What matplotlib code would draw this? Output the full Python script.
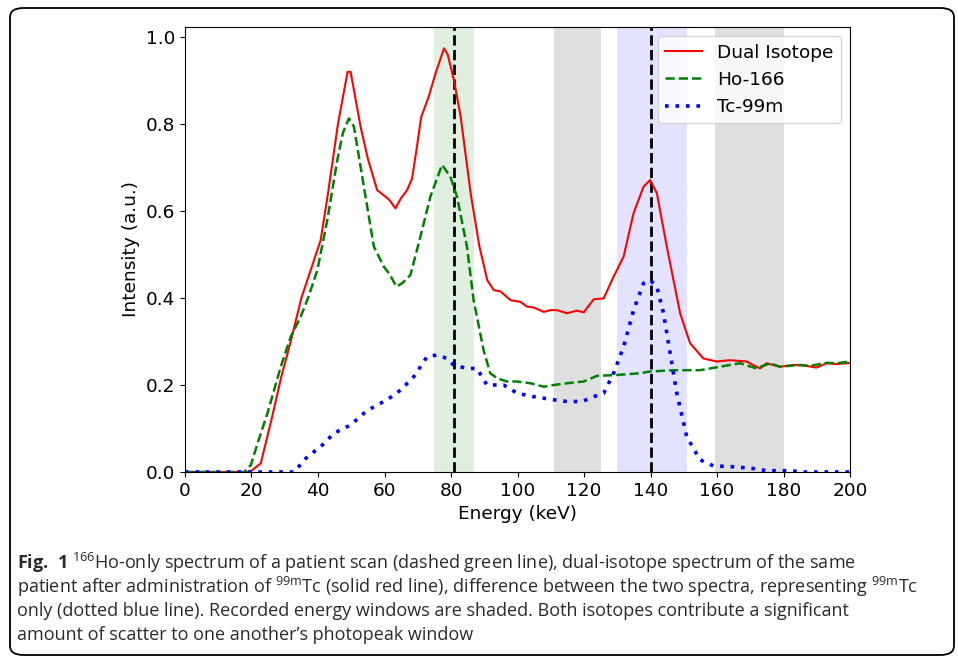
import matplotlib
matplotlib.use("Agg")
import matplotlib.pyplot as plt
from matplotlib.patches import FancyBboxPatch

plt.rcParams['font.size'] = 13.3
plt.rcParams['mathtext.fontset'] = 'custom'
plt.rcParams['mathtext.rm'] = 'Open Sans'
plt.rcParams['mathtext.bf'] = 'Open Sans:bold'

# dual isotope spectrum (red)
energy_dual = [0, 19, 20, 22.8, 26, 29, 31.8, 35, 38.8, 40.8, 43, 46, 48.9, 49.8, 51, 52.8,
               55, 57.8, 60.3, 61.5, 63.3, 65, 66.8, 68.3, 69.8, 71, 73.3, 75.5, 77.9, 79, 80.9,
               82.9, 85.9, 88.5, 90.9, 92.9, 94.9, 97.9, 100.9, 102.9, 105, 107.9, 109.9,
               111.9, 114.9, 117.9, 119.9, 122.9, 125.9, 128.9, 131.9, 134.9, 137.9, 139.9,
               141.9, 144.9, 148.9, 151.9, 155.9, 159.9, 163.9, 168.9, 172.9, 174.9, 178.9,
               182.9, 186, 189.9, 192.9, 196, 200]
dual = [0, 0, 0.003, 0.02, 0.12, 0.22, 0.30, 0.40, 0.487, 0.533, 0.64, 0.80, 0.92, 0.92,
        0.87, 0.794, 0.72, 0.648, 0.633, 0.625, 0.606, 0.63, 0.648, 0.675, 0.75, 0.815, 0.863,
        0.92, 0.974, 0.96, 0.90, 0.817, 0.641, 0.52, 0.441, 0.418, 0.415, 0.395, 0.391,
        0.38, 0.378, 0.368, 0.372, 0.372, 0.365, 0.371, 0.367, 0.397, 0.399, 0.449, 0.495,
        0.595, 0.656, 0.671, 0.641, 0.518, 0.365, 0.296, 0.261, 0.254, 0.257, 0.254, 0.238,
        0.25, 0.242, 0.246, 0.245, 0.24, 0.25, 0.248, 0.251]

# Ho-166 only (green)
energy_ho = [0, 17.8, 19.8, 22, 24.8, 28.8, 31.8, 34.8, 37, 39.8, 42.8, 45.8, 47.5, 49.3,
             50.8, 53.8, 56.8, 59.8, 61.5, 63.6, 65.5, 67.8, 70.8, 73.8, 77.3, 79.8, 81.8,
             84.8, 86.8, 89.8, 91.8, 94, 96.8, 99.8, 103.9, 107.9, 111, 114.9, 119.9, 123.9,
             129.9, 136.9, 139.9, 146.9, 154.9, 160.9, 166.9, 171.9, 175.9, 178.9, 184.9,
             188, 192.9, 196, 200]
ho = [0, 0, 0.016, 0.07, 0.135, 0.242, 0.311, 0.357, 0.40, 0.464, 0.579, 0.717, 0.78,
      0.813, 0.794, 0.656, 0.518, 0.472, 0.455, 0.426, 0.435, 0.453, 0.541, 0.633, 0.706,
      0.679, 0.633, 0.518, 0.395, 0.28, 0.227, 0.215, 0.208, 0.208, 0.204, 0.196, 0.20,
      0.204, 0.208, 0.221, 0.223, 0.227, 0.231, 0.234, 0.234, 0.242, 0.25, 0.238, 0.25,
      0.242, 0.246, 0.244, 0.251, 0.25, 0.254]

# difference = Tc-99m (blue)
energy_tc = [0, 32.8, 36.8, 40.8, 44.8, 49.8, 53.8, 56.8, 60.8, 64.8, 68.8, 72.8, 75.8,
             78.8, 80.8, 84.8, 87.8, 90.8, 95.8, 99.9, 104.9, 110.9, 114.9, 119.4, 122.9,
             125.9, 128.9, 131.9, 134.9, 137.9, 139.9, 141.9, 143.9, 145.9, 147.9, 150.9,
             154.9, 158.9, 164.9, 170.9, 174.9, 181.9, 186, 193, 200]
tc = [0, 0, 0.035, 0.058, 0.089, 0.108, 0.135, 0.15, 0.166, 0.188, 0.219, 0.265, 0.269,
      0.261, 0.246, 0.238, 0.238, 0.2, 0.2, 0.181, 0.173, 0.166, 0.162, 0.162, 0.173, 0.181,
      0.227, 0.288, 0.372, 0.434, 0.441, 0.426, 0.365, 0.273, 0.181, 0.081, 0.028, 0.014,
      0.012, 0.008, 0.003, 0.003, 0, 0, 0]

# recorded energy windows
windows = [(75, 87, 'green', 0.12), (111, 125, 'gray', 0.25),
           (130, 151, 'blue', 0.11), (159.5, 180, 'gray', 0.25)]
peaks = [81, 140]

fig = plt.figure(figsize=(9.58, 6.57), dpi=100)
ax = fig.add_axes([0.1931, 0.2816, 0.6942, 0.6773])

for lo, hi, c, a in windows:
    ax.axvspan(lo, hi, color=c, alpha=a, lw=0)
for p in peaks:
    ax.axvline(p, color='black', ls='--', lw=2)

ax.plot(energy_dual, dual, color='red', lw=1.5, label='Dual Isotope')
ax.plot(energy_ho, ho, color='green', ls='--', lw=1.8, label='Ho-166')
ax.plot(energy_tc, tc, color='blue', ls=(0, (1, 1.9)), lw=2.6, label='Tc-99m')

ax.set_xlim(0, 200)
ax.set_ylim(0, 1.023)
ax.set_xticks(range(0, 201, 20))
ax.set_yticks([0, 0.2, 0.4, 0.6, 0.8, 1.0])
ax.set_xlabel('Energy (keV)')
ax.set_ylabel('Intensity (a.u.)')
ax.legend(loc='upper right')

# caption and frame
border = FancyBboxPatch((10 / 958, 2 / 657), 944 / 958, 647 / 657,
                        boxstyle='round,pad=0,rounding_size=0.014',
                        transform=fig.transFigure, fill=False, ec='black', lw=1.3)
fig.patches.append(border)

caption = [
    r"$\mathbf{Fig.\ 1}$ $^{166}$Ho-only spectrum of a patient scan (dashed green line), dual-isotope spectrum of the same",
    r"patient after administration of $^{\mathrm{99m}}$Tc (solid red line), difference between the two spectra, representing $^{\mathrm{99m}}$Tc",
    "only (dotted blue line). Recorded energy windows are shaded. Both isotopes contribute a significant",
    "amount of scatter to one another\u2019s photopeak window",
]
for i, line in enumerate(caption):
    fig.text(17 / 958, 1 - (563 + 24 * i) / 657, line, family='Open Sans', fontsize=13,
             va='center', ha='left', color='#2a2a2a')

fig.savefig('out.png', dpi=100)
